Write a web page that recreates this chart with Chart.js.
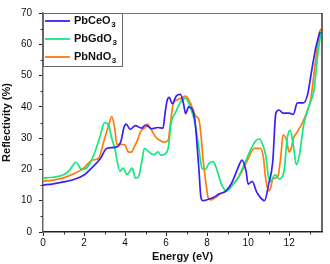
<!DOCTYPE html>
<html>
<head>
<meta charset="utf-8">
<script src="https://cdn.jsdelivr.net/npm/chart.js@4.4.0/dist/chart.umd.min.js"></script>
<style>
  html, body { margin: 0; padding: 0; background: #fff; }
  #wrap { width: 330px; height: 264px; }
</style>
</head>
<body>
<div id="wrap"><canvas id="chart"></canvas></div>
<script>
// Energy (eV) / reflectivity (%)
const ceEnergy = [0, 0.5, 1, 1.5, 2, 2.3, 2.8, 3.1, 3.6, 3.8, 3.95, 4.05, 4.25, 4.5, 4.8, 5.0, 5.3, 5.6, 5.85, 5.95, 6.05, 6.15, 6.3, 6.5, 6.7, 6.85, 6.95, 7.1, 7.25, 7.4, 7.5, 7.6, 7.7, 7.8, 8.0, 8.3, 8.6, 8.9, 9.2, 9.5, 9.7, 9.9, 10.0, 10.2, 10.4, 10.6, 10.8, 11.0, 11.2, 11.35, 11.5, 11.7, 12.0, 12.2, 12.4, 12.7, 12.9, 13.1, 13.3, 13.5];
const ceRefl   = [15, 15.4, 16, 16.8, 18.2, 20, 23.5, 26.7, 27.2, 29, 33.5, 34.5, 32.8, 34, 33.2, 34.2, 33, 33.4, 33.2, 38, 42, 43, 41, 43.5, 44, 41, 37.8, 40, 39.5, 36, 28.7, 20, 11, 10, 10.3, 11, 12.2, 13, 15.7, 20.4, 23, 19.4, 15.3, 16.2, 13, 11, 10, 15.3, 22.5, 38, 39, 38, 38, 37.6, 41.3, 41.3, 44, 51.7, 59, 64];

const gdEnergy = [0, 0.5, 1, 1.3, 1.6, 1.9, 2.2, 2.5, 2.8, 3.0, 3.2, 3.35, 3.5, 3.75, 3.9, 4.1, 4.35, 4.5, 4.65, 4.8, 4.95, 5.1, 5.4, 5.6, 5.75, 5.9, 6.1, 6.25, 6.45, 6.7, 6.95, 7.2, 7.4, 7.6, 7.75, 7.9, 8.1, 8.3, 8.5, 8.7, 8.95, 9.2, 9.5, 9.8, 10.1, 10.35, 10.55, 10.7, 10.85, 11.0, 11.1, 11.3, 11.5, 11.75, 11.9, 12.05, 12.2, 12.35, 12.5, 12.7, 13.0, 13.2, 13.4, 13.55];
const gdRefl   = [17.2, 17.5, 18.3, 19.8, 22.3, 19.9, 21, 25, 31, 35, 34, 30, 26.7, 19.4, 20.4, 18.4, 20.4, 17.3, 17.5, 22, 26.7, 26, 24.7, 25.6, 24.5, 24.8, 26.7, 35, 38, 41.5, 42.8, 39.5, 35, 26.7, 20.4, 20, 22, 22.5, 19.4, 15.2, 13.1, 14.7, 17.3, 21.5, 26, 29, 29.8, 28, 24.7, 17.3, 16.2, 18.3, 17, 19.4, 29.8, 32.5, 27.8, 21.5, 24.7, 34, 41, 45, 57, 64];

const ndEnergy = [0, 0.5, 1, 1.5, 2, 2.4, 2.7, 3.0, 3.2, 3.35, 3.5, 3.6, 3.8, 4.0, 4.15, 4.3, 4.45, 4.6, 4.75, 4.9, 5.0, 5.1, 5.25, 5.5, 5.7, 5.9, 6.1, 6.2, 6.35, 6.55, 6.75, 6.95, 7.2, 7.45, 7.6, 7.7, 7.8, 7.95, 8.05, 8.2, 8.4, 8.65, 8.9, 9.1, 9.4, 9.7, 10.0, 10.3, 10.6, 10.75, 10.85, 11.0, 11.1, 11.2, 11.45, 11.6, 11.7, 11.85, 12.0, 12.1, 12.2, 12.4, 12.65, 12.9, 13.05, 13.25, 13.45, 13.55];
const ndRefl   = [16.2, 16.6, 17.3, 18.6, 20.5, 23, 23.5, 29.8, 34, 36.9, 33, 28, 28, 27.8, 25.6, 25.5, 27.2, 29.3, 32, 33, 33.5, 34.5, 33, 30.3, 29.3, 28.7, 29.3, 34, 41, 42.3, 42.8, 43.4, 41, 37, 36, 31, 23.5, 15.3, 11, 10.3, 11, 12.2, 13, 14.2, 16.2, 19.4, 23.5, 26.7, 26.7, 23.5, 17.3, 13.1, 14.2, 16.9, 17.8, 24.7, 31, 29.8, 25.6, 26.7, 29.8, 32, 35, 39, 42.3, 52.8, 63, 65];

const seriesNames = ["PbCeO", "PbGdO", "PbNdO"];
const seriesColors = ["#3b1ff5", "#12e87c", "#ff7a0a"];
const xTicks = [0, 2, 4, 6, 8, 10, 12];
const yTicks = [0, 10, 20, 30, 40, 50, 60, 70];

const FONT = "'Liberation Sans', Arial, sans-serif";

function toPoints(xs, ys) {
    return xs.map((x, i) => ({ x: x, y: ys[i] }));
}

// frame, minor ticks and the boxed legend with subscripts
const framePlugin = {
    id: "frame",
    afterDraw(chart) {
        const ctx = chart.ctx;
        const a = chart.chartArea;
        const xs = chart.scales.x, ys = chart.scales.y;
        ctx.save();
        // top and right edges
        ctx.lineWidth = 1.2;
        ctx.strokeStyle = "#777";
        ctx.beginPath();
        ctx.moveTo(a.left, a.top + 0.5);
        ctx.lineTo(a.right, a.top + 0.5);
        ctx.stroke();
        ctx.strokeStyle = "#000";
        ctx.beginPath();
        ctx.moveTo(a.right, a.top);
        ctx.lineTo(a.right, a.bottom);
        ctx.stroke();

        // minor ticks
        ctx.lineWidth = 1;
        ctx.strokeStyle = "#333";
        ctx.beginPath();
        for (let v = 1; v < 13.6; v += 2) {
            const px = Math.round(xs.getPixelForValue(v)) + 0.5;
            ctx.moveTo(px, a.bottom);
            ctx.lineTo(px, a.bottom + 2.5);
        }
        for (let v = 5; v < 70; v += 10) {
            const py = Math.round(ys.getPixelForValue(v)) + 0.5;
            ctx.moveTo(a.left, py);
            ctx.lineTo(a.left - 2.5, py);
        }
        ctx.stroke();

        // legend box
        const bx = a.left, by = a.top, bw = 79, bh = 53;
        ctx.fillStyle = "#fff";
        ctx.fillRect(bx + 1, by + 1, bw, bh);
        ctx.strokeStyle = "#666";
        ctx.lineWidth = 1;
        ctx.strokeRect(bx + 0.5, by + 0.5, bw, bh);
        seriesNames.forEach((name, i) => {
            const cy = by + 8 + i * 18;
            ctx.strokeStyle = seriesColors[i];
            ctx.lineWidth = 1.8;
            ctx.beginPath();
            ctx.moveTo(bx + 2, cy);
            ctx.lineTo(bx + 27, cy);
            ctx.stroke();
            ctx.fillStyle = "#111";
            ctx.textBaseline = "middle";
            ctx.textAlign = "left";
            ctx.font = "bold 11px " + FONT;
            ctx.fillText(name, bx + 31, cy);
            const w = ctx.measureText(name).width;
            ctx.font = "bold 8px " + FONT;
            ctx.fillText("3", bx + 31 + w + 0.5, cy + 4);
        });
        ctx.restore();
    }
};

new Chart(document.getElementById("chart"), {
    type: "line",
    data: {
        datasets: [
            { label: seriesNames[0] + "3", data: toPoints(ceEnergy, ceRefl), borderColor: seriesColors[0] },
            { label: seriesNames[1] + "3", data: toPoints(gdEnergy, gdRefl), borderColor: seriesColors[1] },
            { label: seriesNames[2] + "3", data: toPoints(ndEnergy, ndRefl), borderColor: seriesColors[2] }
        ].map(d => Object.assign(d, {
            borderWidth: 1.7,
            pointRadius: 0,
            fill: false,
            cubicInterpolationMode: "monotone"
        }))
    },
    options: {
        responsive: true,
        maintainAspectRatio: false,
        animation: false,
        layout: { padding: { left: 0, top: 8, right: 8, bottom: 0 } },
        plugins: { legend: { display: false }, tooltip: { enabled: false } },
        scales: {
            x: {
                type: "linear",
                min: 0,
                max: 13.6,
                afterBuildTicks: s => { s.ticks = xTicks.map(v => ({ value: v })); },
                afterFit: s => { s.height = 32; },
                grid: { drawOnChartArea: false, tickLength: 4, color: "#222" },
                border: { color: "#222", width: 1.5 },
                ticks: { padding: 1, color: "#111", font: { family: FONT, size: 10 }, maxRotation: 0 },
                title: { display: true, text: "Energy (eV)", color: "#111", font: { family: FONT, size: 11, weight: "bold" }, padding: { top: 2, bottom: 0 } }
            },
            y: {
                min: 0,
                max: 70,
                afterBuildTicks: s => { s.ticks = yTicks.map(v => ({ value: v })); },
                afterFit: s => { s.width = 43; },
                grid: { drawOnChartArea: false, tickLength: 4, color: "#222" },
                border: { color: "#666", width: 1.5 },
                ticks: { padding: 7, color: "#111", font: { family: FONT, size: 10 } },
                title: { display: true, text: "Reflectivity (%)", color: "#111", font: { family: FONT, size: 11, weight: "bold" }, padding: { top: 0, bottom: 0 } }
            }
        }
    },
    plugins: [framePlugin]
});
</script>
</body>
</html>
